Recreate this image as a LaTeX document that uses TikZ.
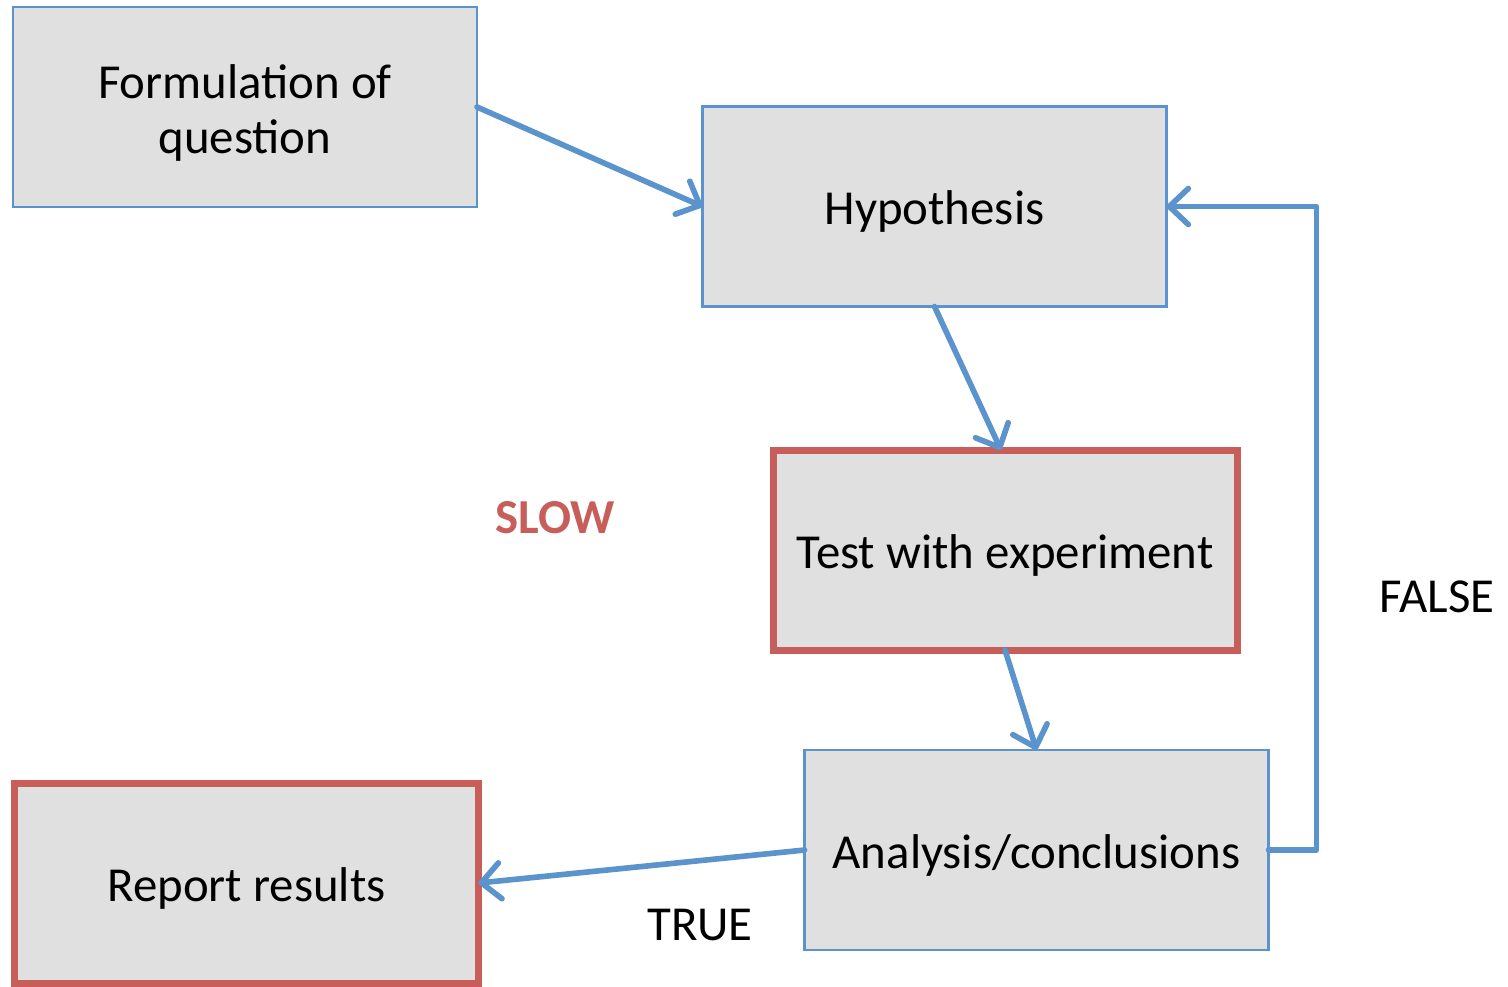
\documentclass[tikz,border=0pt]{standalone}
\usepackage{fontspec}
\setmainfont{Carlito}
\usepackage{tikz}
\usetikzlibrary{arrows.meta,positioning}
\definecolor{bluex}{HTML}{5B93CC}
\definecolor{redx}{HTML}{C75E59}
\definecolor{boxbg}{HTML}{E0E0E0}
\tikzset{
  box/.style={draw=bluex,line width=0.7pt,fill=boxbg,align=center,
    minimum width=4.64cm,minimum height=2cm,inner sep=0pt,outer sep=0pt,
    text height=13.5pt,text depth=3.2pt,
    font=\fontsize{13.9}{15.6}\selectfont},
  redbox/.style={box,draw=redx,line width=2pt},
  ar/.style={-{Straight Barb[length=1.9mm,width=3.6mm,round]},line width=1.6pt,bluex,line cap=round,line join=round},
  lbl/.style={font=\fontsize{13.9}{15}\selectfont,inner sep=0pt}
}
\begin{document}
\begin{tikzpicture}
\useasboundingbox (0,0) rectangle (15.08,-9.86);
% boxes
\node[box,text height=29.3pt,text depth=2.8pt] (question) at (2.45,-1.07) {Formulation of\\question};
\node[box] (hypo) at (9.345,-2.065) {Hypothesis};
\node[redbox] (test) at (10.05,-5.50) {Test with experiment};
\node[box] (analysis) at (10.365,-8.50) {Analysis/conclusions};
\node[redbox] (report) at (2.465,-8.83) {Report results};
% labels
\node[lbl,text=redx,font=\fontsize{13.9}{15}\bfseries] (slow) at (5.55,-5.18) {SLOW};
\node[lbl] (false) at (14.37,-5.97) {FALSE};
\node[lbl] (true) at (7.0,-9.25) {TRUE};
% arrows
\draw[ar] (question.east) -- (hypo.west);
\draw[ar] (hypo.south) -- ([xshift=-0.04cm]test.north);
\draw[ar] (test.south) -- (analysis.north);
\draw[ar] (analysis.west) -- (report.east);
\draw[ar] (analysis.east) -- ++(0.48,0) |- (hypo.east);
\end{tikzpicture}
\end{document}
